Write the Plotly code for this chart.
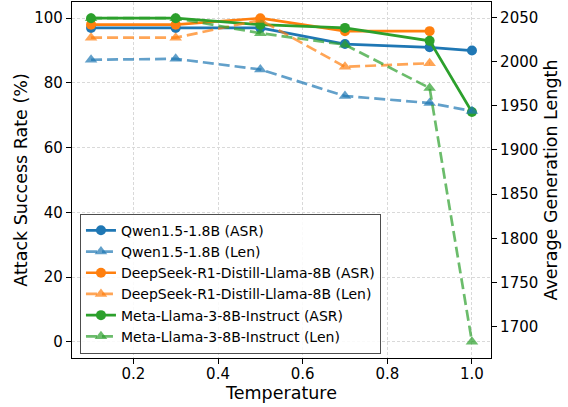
import plotly.graph_objects as go

temps = [0.1, 0.3, 0.5, 0.7, 0.9, 1.0]
temps_ds = [0.1, 0.3, 0.5, 0.7, 0.9]

qwen_asr = [97, 97, 97, 92, 91, 90]
qwen_len = [2002, 2003, 1991, 1961, 1953, 1944]
ds_asr = [98, 98, 100, 96, 96]
ds_len = [2027, 2027, 2047, 1994, 1998]
llama_asr = [100, 100, 98, 97, 93, 71]
llama_len = [2049, 2049, 2032, 2019, 1970, 1683]

x_ticks = [0.2, 0.4, 0.6, 0.8, 1.0]
asr_ticks = [0, 20, 40, 60, 80, 100]
len_ticks = [1700, 1750, 1800, 1850, 1900, 1950, 2000, 2050]

BLUE = "#1f77b4"
ORANGE = "#ff7f0e"
GREEN = "#2ca02c"


def rgba(hexc, a):
    h = hexc.lstrip("#")
    r, g, b = int(h[0:2], 16), int(h[2:4], 16), int(h[4:6], 16)
    return f"rgba({r},{g},{b},{a})"


FONT = "DejaVu Sans"
LW = 2.7
DASH = "11px,5px"

fig = go.Figure()

series = [
    ("Qwen1.5-1.8B", temps, qwen_asr, qwen_len, BLUE),
    ("DeepSeek-R1-Distill-Llama-8B", temps_ds, ds_asr, ds_len, ORANGE),
    ("Meta-Llama-3-8B-Instruct", temps, llama_asr, llama_len, GREEN),
]

for name, xs, asr, ln, col in series:
    fig.add_trace(go.Scatter(
        x=xs, y=asr, name=f"{name} (ASR)", mode="lines+markers",
        line=dict(color=col, width=LW),
        marker=dict(symbol="circle", size=10, color=col),
        yaxis="y",
    ))
    fig.add_trace(go.Scatter(
        x=xs, y=ln, name=f"{name} (Len)", mode="lines+markers",
        line=dict(color=rgba(col, 0.7), width=LW, dash=DASH),
        marker=dict(symbol="triangle-up", size=11, color=rgba(col, 0.7)),
        yaxis="y2",
    ))

all_len = qwen_len + ds_len + llama_len
lo, hi = min(all_len), max(all_len)
pad = 0.05 * (hi - lo)

xlo, xhi = min(temps), max(temps)
xpad = 0.05 * (xhi - xlo)

axis_common = dict(
    showline=True, linecolor="black", linewidth=1.2,
    ticks="outside", ticklen=5, tickwidth=1.1, tickcolor="black",
    tickfont=dict(family=FONT, size=15, color="black"),
    zeroline=False,
    automargin=False,
)

fig.update_layout(
    width=568, height=407,
    margin=dict(l=72, r=77, t=2, b=49),
    paper_bgcolor="white", plot_bgcolor="white",
    font=dict(family=FONT, color="black"),
    xaxis=dict(
        range=[xlo - xpad, xhi + xpad],
        tickvals=x_ticks, tickformat=".1f",
        ticklabelstandoff=-3,
        mirror=True,
        showgrid=True, gridcolor="#d9d9d9", griddash="3px,2px", gridwidth=0.8,
        title=dict(text="Temperature", font=dict(family=FONT, size=17.5), standoff=4),
        **axis_common,
    ),
    yaxis=dict(
        range=[-5, 105],
        tickvals=asr_ticks,
        mirror=True,
        showgrid=True, gridcolor="#d9d9d9", griddash="3px,2px", gridwidth=0.8,
        title=dict(text="Attack Success Rate (%)", font=dict(family=FONT, size=17.5), standoff=2),
        **axis_common,
    ),
    yaxis2=dict(
        range=[lo - pad, hi + pad],
        tickvals=len_ticks,
        overlaying="y", side="right",
        showgrid=False,
        title=dict(text="Average Generation Length", font=dict(family=FONT, size=17.5), standoff=7),
        **axis_common,
    ),
    legend=dict(
        x=0.019, y=0.012, xanchor="left", yanchor="bottom",
        bgcolor="rgba(255,255,255,0.85)",
        bordercolor="#4d4d4d", borderwidth=1,
        font=dict(family=FONT, size=14, color="black"),
        tracegroupgap=0,
    ),
    showlegend=True,
)

fig.write_html(
    "out.html",
    config={"displayModeBar": False},
    post_script="document.body.style.margin='0';document.body.style.overflow='hidden';",
)
